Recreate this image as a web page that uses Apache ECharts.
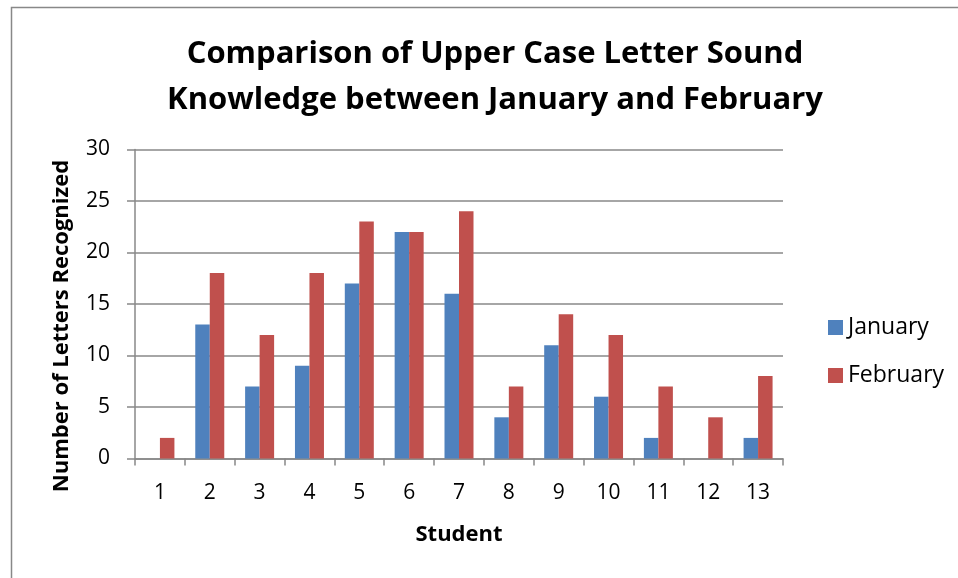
<!DOCTYPE html>
<html><head><meta charset="utf-8">
<script src="https://cdn.jsdelivr.net/npm/echarts@6/dist/echarts.min.js"></script>
<style>html,body{margin:0;padding:0;background:#fff}#c{width:958px;height:578px}</style>
</head><body><div id="c"></div>
<script>
var categories = ['1','2','3','4','5','6','7','8','9','10','11','12','13'];
var january = [0,13,7,9,17,22,16,4,11,6,2,0,2];
var february = [2,18,12,18,23,22,24,7,14,12,7,4,8];
var seriesNames = ['January','February'];
var titleText = 'Comparison of Upper Case Letter Sound\nKnowledge between January and February';
var yAxisTitle = 'Number of Letters Recognized';
var xAxisTitle = 'Student';
var F = '"Open Sans", "DejaVu Sans", sans-serif';
var chart = echarts.init(document.getElementById('c'));
chart.setOption({
  animation:false,
  backgroundColor:'#fff',
  graphic:[
    {type:'rect',left:9,top:5,shape:{width:960,height:600},style:{fill:'none',stroke:'#888',lineWidth:1.5},z:-1},
    {type:'text',x:62,y:326,rotation:Math.PI/2,style:{text:yAxisTitle,fontFamily:F,fontWeight:'bold',fontSize:22,fill:'#000',align:'center',verticalAlign:'middle'}}
  ],
  title:{text:titleText,left:490,textAlign:'center',top:26,textStyle:{fontFamily:F,fontWeight:'bold',fontSize:31,lineHeight:46,color:'#000'}},
  legend:{orient:'vertical',left:823,top:310.5,itemWidth:15,itemHeight:15,itemGap:24,icon:'rect',
    textStyle:{fontFamily:F,fontSize:23,lineHeight:24,color:'#000'},data:seriesNames},
  grid:{left:135,right:175,top:149.5,bottom:119.5,containLabel:false},
  xAxis:{type:'category',data:categories,name:xAxisTitle,nameLocation:'middle',nameGap:65,
    nameTextStyle:{fontFamily:F,fontWeight:'bold',fontSize:22,color:'#000'},
    axisLine:{lineStyle:{color:'#888',width:1.5}},axisTick:{show:true,length:7,lineStyle:{color:'#888',width:1.5}},
    axisLabel:{fontFamily:F,fontSize:21,color:'#000',margin:24}},
  yAxis:{type:'value',min:0,max:30,interval:5,
    axisLine:{show:true,lineStyle:{color:'#888',width:1.5}},axisTick:{show:true,length:8,lineStyle:{color:'#888',width:1.5}},
    splitLine:{lineStyle:{color:'#888',width:1.5}},
    axisLabel:{fontFamily:F,fontSize:21,color:'#000',margin:25}},
  series:[
    {name:seriesNames[0],type:'bar',data:january,barWidth:14.5,barGap:'0%',itemStyle:{color:'#4F81BD'}},
    {name:seriesNames[1],type:'bar',data:february,barWidth:14.5,barGap:'0%',itemStyle:{color:'#C0504D'}}
  ]
});
</script></body></html>
